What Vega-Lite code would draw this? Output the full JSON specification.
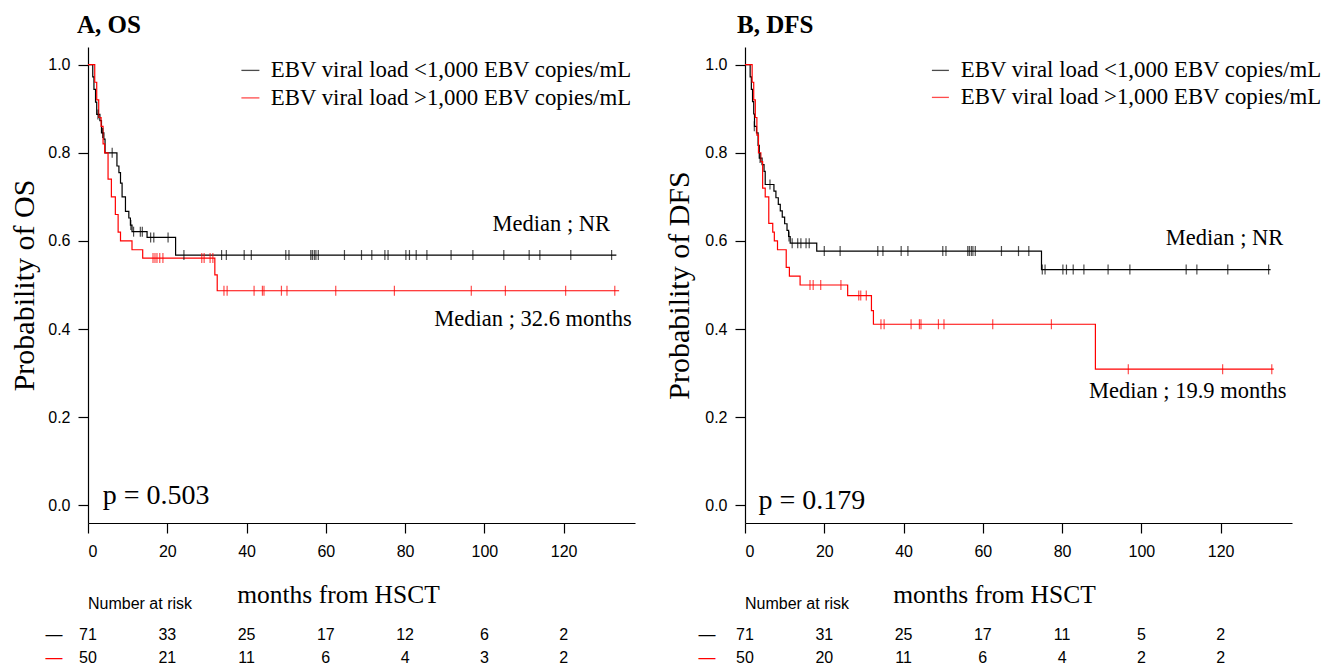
{
  "$schema": "https://vega.github.io/schema/vega-lite/v6.json",
  "background": "white",
  "padding": {"left": 9, "top": 13, "right": 0, "bottom": 0},
  "config": {
    "view": {"stroke": null},
    "font": "Liberation Sans",
    "axis": {
      "domainColor": "#000000", "tickColor": "#000000", "labelColor": "#000000", "titleColor": "#000000",
      "grid": false, "labelFont": "Liberation Sans", "labelFontSize": 16, "tickSize": 10,
      "domainWidth": 1.2, "tickWidth": 1.2, "titleFont": "Liberation Serif", "titleFontWeight": "normal"
    }
  },
  "datasets": {
    "osCurve": [
      {"ebv": "<1,000", "time": 0, "surv": 1}, {"ebv": "<1,000", "time": 1.2, "surv": 0.972}, {"ebv": "<1,000", "time": 1.5, "surv": 0.944},
      {"ebv": "<1,000", "time": 1.9, "surv": 0.915}, {"ebv": "<1,000", "time": 2.2, "surv": 0.887}, {"ebv": "<1,000", "time": 3.0, "surv": 0.873},
      {"ebv": "<1,000", "time": 3.4, "surv": 0.845}, {"ebv": "<1,000", "time": 4.0, "surv": 0.831}, {"ebv": "<1,000", "time": 4.3, "surv": 0.8},
      {"ebv": "<1,000", "time": 7.3, "surv": 0.77}, {"ebv": "<1,000", "time": 7.8, "surv": 0.755}, {"ebv": "<1,000", "time": 8.2, "surv": 0.731},
      {"ebv": "<1,000", "time": 8.6, "surv": 0.7}, {"ebv": "<1,000", "time": 9.45, "surv": 0.667}, {"ebv": "<1,000", "time": 10.3, "surv": 0.652},
      {"ebv": "<1,000", "time": 10.7, "surv": 0.636}, {"ebv": "<1,000", "time": 11.1, "surv": 0.621}, {"ebv": "<1,000", "time": 14.9, "surv": 0.608},
      {"ebv": "<1,000", "time": 22.1, "surv": 0.568}, {"ebv": "<1,000", "time": 133.3, "surv": 0.568},
      {"ebv": ">1,000", "time": 0, "surv": 1}, {"ebv": ">1,000", "time": 1.7, "surv": 0.96}, {"ebv": ">1,000", "time": 2.2, "surv": 0.92},
      {"ebv": ">1,000", "time": 2.7, "surv": 0.88}, {"ebv": ">1,000", "time": 3.3, "surv": 0.86}, {"ebv": ">1,000", "time": 3.8, "surv": 0.82},
      {"ebv": ">1,000", "time": 4.2, "surv": 0.8}, {"ebv": ">1,000", "time": 5.06, "surv": 0.74}, {"ebv": ">1,000", "time": 5.9, "surv": 0.7},
      {"ebv": ">1,000", "time": 6.9, "surv": 0.66}, {"ebv": ">1,000", "time": 7.6, "surv": 0.62}, {"ebv": ">1,000", "time": 8.2, "surv": 0.6},
      {"ebv": ">1,000", "time": 11.1, "surv": 0.58}, {"ebv": ">1,000", "time": 13.8, "surv": 0.561}, {"ebv": ">1,000", "time": 32.0, "surv": 0.523},
      {"ebv": ">1,000", "time": 32.6, "surv": 0.487}, {"ebv": ">1,000", "time": 134, "surv": 0.487}
    ],
    "osCensor": [
      {"ebv": "<1,000", "time": 2.5, "surv": 0.887}, {"ebv": "<1,000", "time": 3.7, "surv": 0.845}, {"ebv": "<1,000", "time": 6.1, "surv": 0.8},
      {"ebv": "<1,000", "time": 10.8, "surv": 0.636}, {"ebv": "<1,000", "time": 11.5, "surv": 0.621}, {"ebv": "<1,000", "time": 13.2, "surv": 0.621},
      {"ebv": "<1,000", "time": 13.7, "surv": 0.621}, {"ebv": "<1,000", "time": 15.8, "surv": 0.608}, {"ebv": "<1,000", "time": 16.6, "surv": 0.608},
      {"ebv": "<1,000", "time": 20.2, "surv": 0.608}, {"ebv": "<1,000", "time": 24.2, "surv": 0.568}, {"ebv": "<1,000", "time": 33.7, "surv": 0.568},
      {"ebv": "<1,000", "time": 34.9, "surv": 0.568}, {"ebv": "<1,000", "time": 39.4, "surv": 0.568}, {"ebv": "<1,000", "time": 41.2, "surv": 0.568},
      {"ebv": "<1,000", "time": 49.9, "surv": 0.568}, {"ebv": "<1,000", "time": 50.7, "surv": 0.568}, {"ebv": "<1,000", "time": 56.2, "surv": 0.568},
      {"ebv": "<1,000", "time": 56.6, "surv": 0.568}, {"ebv": "<1,000", "time": 57.1, "surv": 0.568}, {"ebv": "<1,000", "time": 57.5, "surv": 0.568},
      {"ebv": "<1,000", "time": 58.1, "surv": 0.568}, {"ebv": "<1,000", "time": 64.7, "surv": 0.568}, {"ebv": "<1,000", "time": 69.0, "surv": 0.568},
      {"ebv": "<1,000", "time": 71.6, "surv": 0.568}, {"ebv": "<1,000", "time": 74.9, "surv": 0.568}, {"ebv": "<1,000", "time": 75.7, "surv": 0.568},
      {"ebv": "<1,000", "time": 80.2, "surv": 0.568}, {"ebv": "<1,000", "time": 81.1, "surv": 0.568}, {"ebv": "<1,000", "time": 82.8, "surv": 0.568},
      {"ebv": "<1,000", "time": 85.5, "surv": 0.568}, {"ebv": "<1,000", "time": 91.6, "surv": 0.568}, {"ebv": "<1,000", "time": 97.1, "surv": 0.568},
      {"ebv": "<1,000", "time": 104.9, "surv": 0.568}, {"ebv": "<1,000", "time": 111.3, "surv": 0.568}, {"ebv": "<1,000", "time": 114.0, "surv": 0.568},
      {"ebv": "<1,000", "time": 121.8, "surv": 0.568}, {"ebv": "<1,000", "time": 132.1, "surv": 0.568},
      {"ebv": ">1,000", "time": 16.4, "surv": 0.561}, {"ebv": ">1,000", "time": 16.9, "surv": 0.561}, {"ebv": ">1,000", "time": 17.4, "surv": 0.561},
      {"ebv": ">1,000", "time": 18.1, "surv": 0.561}, {"ebv": ">1,000", "time": 18.9, "surv": 0.561}, {"ebv": ">1,000", "time": 28.7, "surv": 0.561},
      {"ebv": ">1,000", "time": 29.3, "surv": 0.561}, {"ebv": ">1,000", "time": 30.8, "surv": 0.561}, {"ebv": ">1,000", "time": 31.5, "surv": 0.561},
      {"ebv": ">1,000", "time": 34.3, "surv": 0.487}, {"ebv": ">1,000", "time": 35.1, "surv": 0.487}, {"ebv": ">1,000", "time": 41.9, "surv": 0.487},
      {"ebv": ">1,000", "time": 44.0, "surv": 0.487}, {"ebv": ">1,000", "time": 44.4, "surv": 0.487}, {"ebv": ">1,000", "time": 48.8, "surv": 0.487},
      {"ebv": ">1,000", "time": 50.2, "surv": 0.487}, {"ebv": ">1,000", "time": 62.5, "surv": 0.487}, {"ebv": ">1,000", "time": 77.3, "surv": 0.487},
      {"ebv": ">1,000", "time": 96.7, "surv": 0.487}, {"ebv": ">1,000", "time": 105.3, "surv": 0.487}, {"ebv": ">1,000", "time": 120.5, "surv": 0.487},
      {"ebv": ">1,000", "time": 132.9, "surv": 0.487}
    ],
    "dfsCurve": [
      {"ebv": "<1,000", "time": 0, "surv": 1}, {"ebv": "<1,000", "time": 1.3, "surv": 0.972}, {"ebv": "<1,000", "time": 1.6, "surv": 0.944},
      {"ebv": "<1,000", "time": 1.9, "surv": 0.916}, {"ebv": "<1,000", "time": 2.2, "surv": 0.888}, {"ebv": "<1,000", "time": 2.4, "surv": 0.86},
      {"ebv": "<1,000", "time": 2.9, "surv": 0.845}, {"ebv": "<1,000", "time": 3.3, "surv": 0.817}, {"ebv": "<1,000", "time": 3.6, "surv": 0.788},
      {"ebv": "<1,000", "time": 4.3, "surv": 0.773}, {"ebv": "<1,000", "time": 4.8, "surv": 0.758}, {"ebv": "<1,000", "time": 5.1, "surv": 0.728},
      {"ebv": "<1,000", "time": 7.3, "surv": 0.713}, {"ebv": "<1,000", "time": 7.8, "surv": 0.698}, {"ebv": "<1,000", "time": 8.4, "surv": 0.683},
      {"ebv": "<1,000", "time": 8.9, "surv": 0.668}, {"ebv": "<1,000", "time": 9.4, "surv": 0.654}, {"ebv": "<1,000", "time": 10.0, "surv": 0.639},
      {"ebv": "<1,000", "time": 10.6, "surv": 0.624}, {"ebv": "<1,000", "time": 11.0, "surv": 0.61}, {"ebv": "<1,000", "time": 11.4, "surv": 0.595},
      {"ebv": "<1,000", "time": 18.1, "surv": 0.577}, {"ebv": "<1,000", "time": 74.8, "surv": 0.535}, {"ebv": "<1,000", "time": 132.6, "surv": 0.535},
      {"ebv": ">1,000", "time": 0, "surv": 1}, {"ebv": ">1,000", "time": 1.8, "surv": 0.96}, {"ebv": ">1,000", "time": 2.2, "surv": 0.92},
      {"ebv": ">1,000", "time": 2.6, "surv": 0.88}, {"ebv": ">1,000", "time": 3.0, "surv": 0.84}, {"ebv": ">1,000", "time": 3.4, "surv": 0.8},
      {"ebv": ">1,000", "time": 4.0, "surv": 0.78}, {"ebv": ">1,000", "time": 4.45, "surv": 0.72}, {"ebv": ">1,000", "time": 5.1, "surv": 0.7},
      {"ebv": ">1,000", "time": 6.0, "surv": 0.64}, {"ebv": ">1,000", "time": 7.0, "surv": 0.62}, {"ebv": ">1,000", "time": 7.4, "surv": 0.6},
      {"ebv": ">1,000", "time": 8.2, "surv": 0.58}, {"ebv": ">1,000", "time": 10.4, "surv": 0.54}, {"ebv": ">1,000", "time": 11.2, "surv": 0.52},
      {"ebv": ">1,000", "time": 13.9, "surv": 0.5}, {"ebv": ">1,000", "time": 25.9, "surv": 0.476}, {"ebv": ">1,000", "time": 31.9, "surv": 0.442},
      {"ebv": ">1,000", "time": 32.4, "surv": 0.411}, {"ebv": ">1,000", "time": 88.4, "surv": 0.309}, {"ebv": ">1,000", "time": 133.4, "surv": 0.309}
    ],
    "dfsCensor": [
      {"ebv": "<1,000", "time": 2.35, "surv": 0.86}, {"ebv": "<1,000", "time": 3.8, "surv": 0.788}, {"ebv": "<1,000", "time": 6.3, "surv": 0.728},
      {"ebv": "<1,000", "time": 11.1, "surv": 0.61}, {"ebv": "<1,000", "time": 11.9, "surv": 0.595}, {"ebv": "<1,000", "time": 13.3, "surv": 0.595},
      {"ebv": "<1,000", "time": 14.1, "surv": 0.595}, {"ebv": "<1,000", "time": 15.4, "surv": 0.595}, {"ebv": "<1,000", "time": 16.2, "surv": 0.595},
      {"ebv": "<1,000", "time": 20.0, "surv": 0.577}, {"ebv": "<1,000", "time": 24.0, "surv": 0.577}, {"ebv": "<1,000", "time": 33.5, "surv": 0.577},
      {"ebv": "<1,000", "time": 34.8, "surv": 0.577}, {"ebv": "<1,000", "time": 39.4, "surv": 0.577}, {"ebv": "<1,000", "time": 41.1, "surv": 0.577},
      {"ebv": "<1,000", "time": 49.9, "surv": 0.577}, {"ebv": "<1,000", "time": 50.7, "surv": 0.577}, {"ebv": "<1,000", "time": 56.2, "surv": 0.577},
      {"ebv": "<1,000", "time": 56.6, "surv": 0.577}, {"ebv": "<1,000", "time": 57.1, "surv": 0.577}, {"ebv": "<1,000", "time": 57.5, "surv": 0.577},
      {"ebv": "<1,000", "time": 58.1, "surv": 0.577}, {"ebv": "<1,000", "time": 64.7, "surv": 0.577}, {"ebv": "<1,000", "time": 69.0, "surv": 0.577},
      {"ebv": "<1,000", "time": 71.6, "surv": 0.577}, {"ebv": "<1,000", "time": 75.0, "surv": 0.535}, {"ebv": "<1,000", "time": 75.7, "surv": 0.535},
      {"ebv": "<1,000", "time": 80.2, "surv": 0.535}, {"ebv": "<1,000", "time": 81.1, "surv": 0.535}, {"ebv": "<1,000", "time": 82.8, "surv": 0.535},
      {"ebv": "<1,000", "time": 85.5, "surv": 0.535}, {"ebv": "<1,000", "time": 91.6, "surv": 0.535}, {"ebv": "<1,000", "time": 97.1, "surv": 0.535},
      {"ebv": "<1,000", "time": 111.3, "surv": 0.535}, {"ebv": "<1,000", "time": 114.0, "surv": 0.535}, {"ebv": "<1,000", "time": 121.8, "surv": 0.535},
      {"ebv": "<1,000", "time": 132.1, "surv": 0.535},
      {"ebv": ">1,000", "time": 16.4, "surv": 0.5}, {"ebv": ">1,000", "time": 17.2, "surv": 0.5}, {"ebv": ">1,000", "time": 19.1, "surv": 0.5},
      {"ebv": ">1,000", "time": 24.2, "surv": 0.5}, {"ebv": ">1,000", "time": 28.7, "surv": 0.476}, {"ebv": ">1,000", "time": 29.2, "surv": 0.476},
      {"ebv": ">1,000", "time": 30.6, "surv": 0.476}, {"ebv": ">1,000", "time": 34.3, "surv": 0.411}, {"ebv": ">1,000", "time": 35.1, "surv": 0.411},
      {"ebv": ">1,000", "time": 41.9, "surv": 0.411}, {"ebv": ">1,000", "time": 44.0, "surv": 0.411}, {"ebv": ">1,000", "time": 44.4, "surv": 0.411},
      {"ebv": ">1,000", "time": 48.8, "surv": 0.411}, {"ebv": ">1,000", "time": 50.2, "surv": 0.411}, {"ebv": ">1,000", "time": 62.5, "surv": 0.411},
      {"ebv": ">1,000", "time": 77.3, "surv": 0.411}, {"ebv": ">1,000", "time": 96.7, "surv": 0.309}, {"ebv": ">1,000", "time": 120.5, "surv": 0.309},
      {"ebv": ">1,000", "time": 132.9, "surv": 0.309}
    ],
    "osRisk": [
      {"ebv": "<1,000", "time": 0, "n": 71}, {"ebv": "<1,000", "time": 20, "n": 33}, {"ebv": "<1,000", "time": 40, "n": 25},
      {"ebv": "<1,000", "time": 60, "n": 17}, {"ebv": "<1,000", "time": 80, "n": 12}, {"ebv": "<1,000", "time": 100, "n": 6},
      {"ebv": "<1,000", "time": 120, "n": 2},
      {"ebv": ">1,000", "time": 0, "n": 50}, {"ebv": ">1,000", "time": 20, "n": 21}, {"ebv": ">1,000", "time": 40, "n": 11},
      {"ebv": ">1,000", "time": 60, "n": 6}, {"ebv": ">1,000", "time": 80, "n": 4}, {"ebv": ">1,000", "time": 100, "n": 3},
      {"ebv": ">1,000", "time": 120, "n": 2}
    ],
    "dfsRisk": [
      {"ebv": "<1,000", "time": 0, "n": 71}, {"ebv": "<1,000", "time": 20, "n": 31}, {"ebv": "<1,000", "time": 40, "n": 25},
      {"ebv": "<1,000", "time": 60, "n": 17}, {"ebv": "<1,000", "time": 80, "n": 11}, {"ebv": "<1,000", "time": 100, "n": 5},
      {"ebv": "<1,000", "time": 120, "n": 2},
      {"ebv": ">1,000", "time": 0, "n": 50}, {"ebv": ">1,000", "time": 20, "n": 20}, {"ebv": ">1,000", "time": 40, "n": 11},
      {"ebv": ">1,000", "time": 60, "n": 6}, {"ebv": ">1,000", "time": 80, "n": 4}, {"ebv": ">1,000", "time": 100, "n": 2},
      {"ebv": ">1,000", "time": 120, "n": 2}
    ]
  },
  "columns": 2,
  "spacing": {"column": 110, "row": 100},
  "bounds": "flush",
  "resolve": {"legend": {"color": "independent"}},
  "concat": [
    {
      "width": 547, "height": 476,
      "title": {"text": "A, OS", "anchor": "start", "frame": "group", "font": "Liberation Serif", "fontSize": 25, "fontWeight": "bold", "color": "#000000", "baseline": "alphabetic", "offset": -11, "dx": -11},
      "layer": [
        {
          "data": {"name": "osCurve"},
          "mark": {"type": "line", "interpolate": "step-after", "strokeWidth": 1.2},
          "encoding": {
            "x": {"field": "time", "type": "quantitative", "scale": {"domain": [0, 138], "nice": false, "zero": false},
                  "axis": {"values": [0, 20, 40, 60, 80, 100, 120], "title": "months from HSCT", "titleFontSize": 25.5, "titleX": 250, "titlePadding": 23, "labelPadding": 10}},
            "y": {"field": "surv", "type": "quantitative", "scale": {"domain": [-0.04, 1.04], "nice": false, "zero": false},
                  "axis": {"values": [0, 0.2, 0.4, 0.6, 0.8, 1], "format": ".1f", "title": "Probability of OS", "titleFontSize": 30, "titlePadding": 8, "labelPadding": 8}},
            "color": {"field": "ebv", "type": "nominal", "scale": {"domain": ["<1,000", ">1,000"], "range": ["#000000", "#ff0000"]},
                      "legend": {"title": null, "orient": "none", "legendX": 151, "legendY": 12, "symbolType": "stroke", "symbolSize": 324, "symbolStrokeWidth": 1.3,
                                 "labelFont": "Liberation Serif", "labelFontSize": 22.8, "labelColor": "#000000", "labelOffset": 9, "rowPadding": 3.5, "labelLimit": 0, "padding": 0,
                                 "labelExpr": "'EBV viral load ' + datum.label + ' EBV copies/mL'"}}
          }
        },
        {
          "data": {"name": "osCensor"},
          "mark": {"type": "tick", "orient": "vertical", "size": 10, "thickness": 1.2},
          "encoding": {
            "x": {"field": "time", "type": "quantitative"},
            "y": {"field": "surv", "type": "quantitative"},
            "color": {"field": "ebv", "type": "nominal"}
          }
        },
        {
          "data": {"values": [{"label": "Median ; NR"}]},
          "mark": {"type": "text", "font": "Liberation Serif", "fontSize": 22.5, "align": "right", "baseline": "middle", "color": "#000000"},
          "encoding": {"x": {"datum": 131.7, "type": "quantitative"}, "y": {"datum": 0.638, "type": "quantitative"}, "text": {"field": "label"}}
        },
        {
          "data": {"values": [{"label": "Median ; 32.6 months"}]},
          "mark": {"type": "text", "font": "Liberation Serif", "fontSize": 22.5, "align": "right", "baseline": "middle", "color": "#000000"},
          "encoding": {"x": {"datum": 137.2, "type": "quantitative"}, "y": {"datum": 0.422, "type": "quantitative"}, "text": {"field": "label"}}
        },
        {
          "data": {"values": [{"label": "p = 0.503"}]},
          "mark": {"type": "text", "font": "Liberation Serif", "fontSize": 28, "align": "left", "baseline": "middle", "color": "#000000"},
          "encoding": {"x": {"datum": 3.7, "type": "quantitative"}, "y": {"datum": 0.022, "type": "quantitative"}, "text": {"field": "label"}}
        }
      ]
    },
    {
      "width": 547, "height": 476,
      "title": {"text": "B, DFS", "anchor": "start", "frame": "group", "font": "Liberation Serif", "fontSize": 25, "fontWeight": "bold", "color": "#000000", "baseline": "alphabetic", "offset": -11, "dx": -8},
      "layer": [
        {
          "data": {"name": "dfsCurve"},
          "mark": {"type": "line", "interpolate": "step-after", "strokeWidth": 1.2},
          "encoding": {
            "x": {"field": "time", "type": "quantitative", "scale": {"domain": [0, 138], "nice": false, "zero": false},
                  "axis": {"values": [0, 20, 40, 60, 80, 100, 120], "title": "months from HSCT", "titleFontSize": 25.5, "titleX": 249, "titlePadding": 23, "labelPadding": 10}},
            "y": {"field": "surv", "type": "quantitative", "scale": {"domain": [-0.04, 1.04], "nice": false, "zero": false},
                  "axis": {"values": [0, 0.2, 0.4, 0.6, 0.8, 1], "format": ".1f", "title": "Probability of  DFS", "titleFontSize": 30, "titlePadding": 10, "labelPadding": 8}},
            "color": {"field": "ebv", "type": "nominal", "scale": {"domain": ["<1,000", ">1,000"], "range": ["#000000", "#ff0000"]},
                      "legend": {"title": null, "orient": "none", "legendX": 184, "legendY": 12, "symbolType": "stroke", "symbolSize": 289, "symbolStrokeWidth": 1.3,
                                 "labelFont": "Liberation Serif", "labelFontSize": 22.8, "labelColor": "#000000", "labelOffset": 9, "rowPadding": 3, "labelLimit": 0, "padding": 0,
                                 "labelExpr": "'EBV viral load ' + datum.label + ' EBV copies/mL'"}}
          }
        },
        {
          "data": {"name": "dfsCensor"},
          "mark": {"type": "tick", "orient": "vertical", "size": 10, "thickness": 1.2},
          "encoding": {
            "x": {"field": "time", "type": "quantitative"},
            "y": {"field": "surv", "type": "quantitative"},
            "color": {"field": "ebv", "type": "nominal"}
          }
        },
        {
          "data": {"values": [{"label": "Median ; NR"}]},
          "mark": {"type": "text", "font": "Liberation Serif", "fontSize": 22.5, "align": "right", "baseline": "middle", "color": "#000000"},
          "encoding": {"x": {"datum": 135.8, "type": "quantitative"}, "y": {"datum": 0.607, "type": "quantitative"}, "text": {"field": "label"}}
        },
        {
          "data": {"values": [{"label": "Median ; 19.9 months"}]},
          "mark": {"type": "text", "font": "Liberation Serif", "fontSize": 22.5, "align": "right", "baseline": "middle", "color": "#000000"},
          "encoding": {"x": {"datum": 136.6, "type": "quantitative"}, "y": {"datum": 0.259, "type": "quantitative"}, "text": {"field": "label"}}
        },
        {
          "data": {"values": [{"label": "p = 0.179"}]},
          "mark": {"type": "text", "font": "Liberation Serif", "fontSize": 28, "align": "left", "baseline": "middle", "color": "#000000"},
          "encoding": {"x": {"datum": 3.4, "type": "quantitative"}, "y": {"datum": 0.009, "type": "quantitative"}, "text": {"field": "label"}}
        }
      ]
    },
    {
      "width": 547, "height": 46,
      "title": {"text": "Number at risk", "anchor": "start", "frame": "group", "font": "Liberation Sans", "fontSize": 16, "fontWeight": "normal", "color": "#000000", "baseline": "alphabetic", "offset": -2},
      "data": {"name": "osRisk"},
      "mark": {"type": "text", "font": "Liberation Sans", "fontSize": 16, "color": "#000000", "baseline": "middle"},
      "encoding": {
        "x": {"field": "time", "type": "quantitative", "scale": {"domain": [0, 138], "nice": false, "zero": false}, "axis": null},
        "y": {"field": "ebv", "type": "nominal", "scale": {"type": "point", "domain": ["<1,000", ">1,000"], "padding": 0.5},
              "axis": {"title": null, "domain": false, "ticks": false, "labelExpr": "'—'", "labelPadding": 26, "labelFontSize": 17,
                       "labelColor": {"condition": {"test": "datum.value === '>1,000'", "value": "#ff0000"}, "value": "#000000"}}},
        "text": {"field": "n", "type": "quantitative"}
      }
    },
    {
      "width": 547, "height": 46,
      "title": {"text": "Number at risk", "anchor": "start", "frame": "group", "font": "Liberation Sans", "fontSize": 16, "fontWeight": "normal", "color": "#000000", "baseline": "alphabetic", "offset": -2},
      "data": {"name": "dfsRisk"},
      "mark": {"type": "text", "font": "Liberation Sans", "fontSize": 16, "color": "#000000", "baseline": "middle"},
      "encoding": {
        "x": {"field": "time", "type": "quantitative", "scale": {"domain": [0, 138], "nice": false, "zero": false}, "axis": null},
        "y": {"field": "ebv", "type": "nominal", "scale": {"type": "point", "domain": ["<1,000", ">1,000"], "padding": 0.5},
              "axis": {"title": null, "domain": false, "ticks": false, "labelExpr": "'—'", "labelPadding": 30, "labelFontSize": 17,
                       "labelColor": {"condition": {"test": "datum.value === '>1,000'", "value": "#ff0000"}, "value": "#000000"}}},
        "text": {"field": "n", "type": "quantitative"}
      }
    }
  ]
}
